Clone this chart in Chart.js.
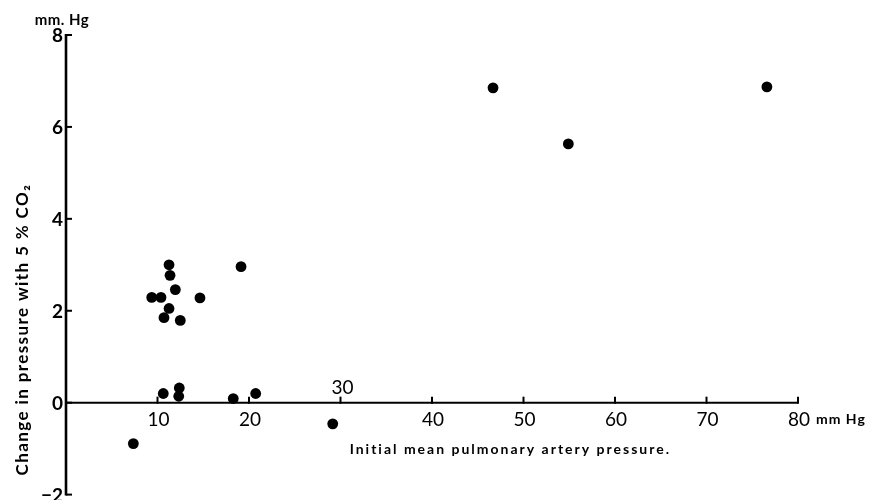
<!DOCTYPE html>
<html>
<head>
<meta charset="utf-8">
<script src="https://cdn.jsdelivr.net/npm/chart.js@4"></script>
<style>
html,body{margin:0;padding:0;background:#fff;}
#wrap{width:874px;height:500px;position:relative;}
</style>
</head>
<body>
<div id="wrap"><canvas id="c" width="874" height="500"></canvas></div>
<script>
// Data
const initialPressure = [11.26, 11.37, 11.95, 9.37, 10.38, 14.64, 11.26, 10.71, 12.49, 19.13,
                         10.63, 12.38, 12.32, 18.28, 20.73, 7.36, 29.15, 46.67, 54.9, 76.6];
const pressureChange  = [3.0, 2.77, 2.46, 2.29, 2.29, 2.28, 2.05, 1.85, 1.79, 2.96,
                         0.2, 0.32, 0.14, 0.09, 0.2, -0.89, -0.46, 6.85, 5.63, 6.87];
const xTickValues = [10, 20, 30, 40, 50, 60, 70, 80];
const xTickLabels = ['10', '20', '30', '40', '50', '60', '70', '80'];
const yTickValues = [-2, 0, 2, 4, 6, 8];
const yTickLabels = ['\u22122', '0', '2', '4', '6', '8'];
const xTitle = 'Initial mean pulmonary artery pressure.';
const yTitle = 'Change in pressure with 5 % CO\u2082';
const xUnit = 'mm Hg';
const yUnit = 'mm. Hg';

const points = initialPressure.map((x, i) => ({x: x, y: pressureChange[i]}));

const FONT = 'Lato, "Open Sans", sans-serif';

function spaced(ctx, px) {
  if ('letterSpacing' in ctx) ctx.letterSpacing = px + 'px';
}

const axesPlugin = {
  id: 'paperAxes',
  afterDraw(chart) {
    const ctx = chart.ctx;
    const xs = chart.scales.x, ys = chart.scales.y;
    const x0 = xs.getPixelForValue(0);
    const y0 = ys.getPixelForValue(0);
    const yTop = ys.getPixelForValue(8);
    const yBot = ys.getPixelForValue(-2);
    const xEnd = xs.getPixelForValue(80);
    ctx.save();
    ctx.strokeStyle = '#000';
    ctx.fillStyle = '#000';
    // y axis
    ctx.lineWidth = 2.6;
    ctx.beginPath();
    ctx.moveTo(x0, yTop - 1);
    ctx.lineTo(x0, yBot + 1);
    ctx.stroke();
    ctx.lineWidth = 2;
    yTickValues.forEach(v => {
      const p = ys.getPixelForValue(v);
      ctx.beginPath();
      ctx.moveTo(x0, p);
      ctx.lineTo(x0 + 6, p);
      ctx.stroke();
    });
    // x axis
    ctx.lineWidth = 2;
    ctx.beginPath();
    ctx.moveTo(x0, y0);
    ctx.lineTo(xEnd, y0);
    ctx.stroke();
    xTickValues.forEach(v => {
      const p = xs.getPixelForValue(v);
      ctx.beginPath();
      ctx.moveTo(p, y0 + 1);
      ctx.lineTo(p, y0 - 6);
      ctx.stroke();
    });
    // y tick labels
    spaced(ctx, 0);
    ctx.font = 'bold 19px ' + FONT;
    ctx.textAlign = 'right';
    ctx.textBaseline = 'middle';
    yTickValues.forEach((v, i) => {
      const p = ys.getPixelForValue(v);
      ctx.fillText(yTickLabels[i], x0 - 3, p + 1);
    });
    // x tick labels
    ctx.font = '19px ' + FONT;
    ctx.textAlign = 'center';
    ctx.textBaseline = 'middle';
    xTickValues.forEach((v, i) => {
      const p = xs.getPixelForValue(v);
      if (v === 30) {
        ctx.fillText(xTickLabels[i], p + 2, y0 - 15);
      } else {
        ctx.fillText(xTickLabels[i], p + 1, y0 + 17);
      }
    });
    // x unit
    spaced(ctx, 1);
    ctx.font = 'bold 14px ' + FONT;
    ctx.textAlign = 'left';
    ctx.textBaseline = 'middle';
    ctx.fillText(xUnit, xEnd + 18, y0 + 17);
    // y unit
    spaced(ctx, 0.5);
    ctx.font = 'bold 15px ' + FONT;
    ctx.textAlign = 'center';
    ctx.textBaseline = 'alphabetic';
    ctx.fillText(yUnit, x0 - 4, yTop - 10);
    // x title
    spaced(ctx, 2);
    ctx.font = 'bold 14px ' + FONT;
    ctx.textAlign = 'left';
    ctx.textBaseline = 'middle';
    ctx.fillText(xTitle, xs.getPixelForValue(31.0), y0 + 47);
    // y title
    ctx.save();
    ctx.translate(23, ys.getPixelForValue(1.59));
    ctx.rotate(-Math.PI / 2);
    spaced(ctx, 1.4);
    ctx.font = 'bold 17px ' + FONT;
    ctx.textAlign = 'center';
    ctx.textBaseline = 'middle';
    ctx.fillText(yTitle, 0, 0);
    ctx.restore();
    ctx.restore();
  }
};

new Chart(document.getElementById('c'), {
  type: 'scatter',
  data: {
    datasets: [{
      data: points,
      backgroundColor: '#000',
      borderColor: '#000',
      pointRadius: 5.4,
      pointHoverRadius: 5.4,
      borderWidth: 0
    }]
  },
  options: {
    responsive: false,
    animation: false,
    events: [],
    clip: false,
    layout: {padding: {left: 66, right: 76, top: 35, bottom: 5}},
    plugins: {legend: {display: false}, tooltip: {enabled: false}},
    scales: {
      x: {type: 'linear', min: 0, max: 80, display: false},
      y: {type: 'linear', min: -2, max: 8, display: false}
    }
  },
  plugins: [axesPlugin]
});
</script>
</body>
</html>
